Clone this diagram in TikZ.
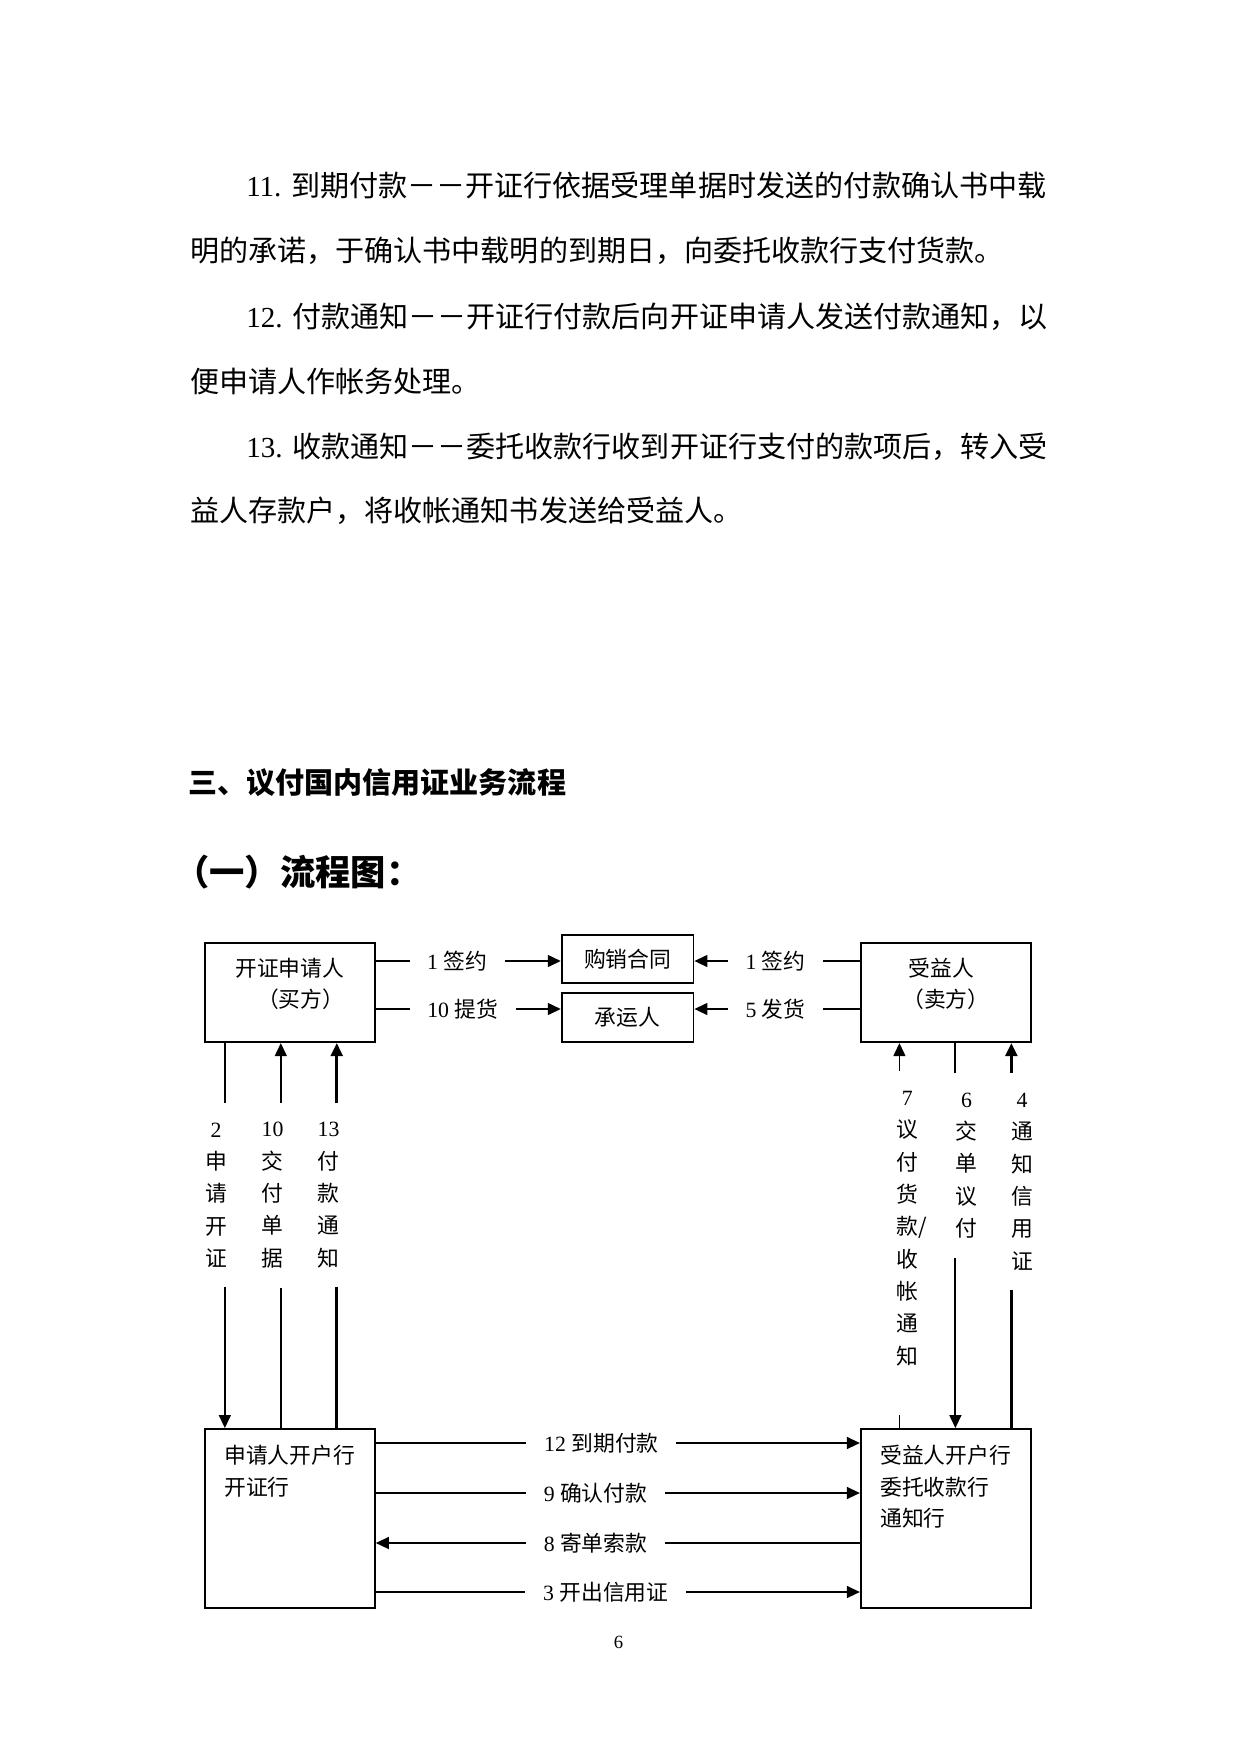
\documentclass[tikz,border=0pt]{standalone}
\usepackage{fontspec}
\setmainfont{Liberation Serif}
\newfontfamily\cjk{Noto Sans CJK SC}
\usetikzlibrary{positioning, arrows.meta}

\begin{document}
\begin{tikzpicture}[
      x=0.16922mm, y=-0.16933mm,
      box/.style={draw, line width=0.9pt, inner sep=0pt},
      party/.style={box, minimum width=28.8mm, minimum height=16.8mm, align=center,
        text depth=3.2mm, font=\fontsize{10.5pt}{15pt}\selectfont\cjk},
      goods/.style={box, minimum width=22.3mm, minimum height=8.1mm,
        font=\fontsize{10.5pt}{13pt}\selectfont\cjk},
      bank/.style={box, minimum width=28.8mm, minimum height=30.3mm},
      bank text/.style={anchor=north west, align=left, inner sep=0pt,
        font=\fontsize{10.5pt}{15pt}\selectfont\cjk},
      flow/.style={line width=0.9pt, -{Triangle[length=2.2mm, width=2mm]}},
      hlabel/.style={fill=white, inner xsep=3mm, inner ysep=0.5mm,
        font=\fontsize{10.5pt}{13pt}\selectfont},
      vlabel/.style={fill=white, inner xsep=1mm, inner ysep=3.3mm, align=center,
        font=\fontsize{10.5pt}{15.6pt}\selectfont\cjk},
      body/.style={anchor=base west, inner sep=0pt, font=\fontsize{14pt}{17pt}\selectfont},
      heading/.style={anchor=base west, inner sep=0pt},
    ]

    % --- page ---
    \fill[white] (0,0) rectangle (1241,1754);

    % --- text above the chart ---
    \foreach \lx/\ly/\ltext [count=\i] in {
        246/196/{11. {\cjk 到期付款－－开证行依据受理单据时发送的付款确认书中载}},
        190/261/{\cjk 明的承诺，于确认书中载明的到期日，向委托收款行支付货款。},
        246/327/{12. {\cjk 付款通知－－开证行付款后向开证申请人发送付款通知，以}},
        190/392/{\cjk 便申请人作帐务处理。},
        246/457/{13. {\cjk 收款通知－－委托收款行收到开证行支付的款项后，转入受}},
        190/521/{\cjk 益人存款户，将收帐通知书发送给受益人。}} {
      \node[body] (para\i) at (\lx,\ly) {\ltext};
    }
    \node[heading, font=\fontsize{14pt}{17pt}\selectfont\cjk\bfseries] (title)
      at (188,793) {三、议付国内信用证业务流程};
    \node[heading, font=\fontsize{17pt}{20pt}\selectfont\cjk\bfseries] (subtitle)
      at (174,885) {（一）流程图：};

    % --- parties, goods, banks ---
    \node[party] (buyer) at (290,992.5) {开证申请人\\\hspace*{1em}（买方）};
    \node[party] (seller) at (946.5,992.5) {受益人\hspace*{0.4em}\\（卖方）};
    \node[goods] (contract) at (628,959) {购销合同};
    \node[goods, minimum height=8.3mm] (carrier) at (628,1017.5) {承运人};
    \node[bank] (ibank) at (290,1518.5) {};
    \node[bank] (abank) at (946.5,1518.5) {};
    \node[bank text] (ibanktext) at ([shift={(20,17)}]ibank.north west) {申请人开户行\\开证行};
    \node[bank text] (abanktext) at ([shift={(20,17)}]abank.north west) {受益人开户行\\委托收款行\\通知行};

    % --- rows and columns of the connectors ---
    \coordinate (row1) at (0,961);
    \coordinate (row2) at (0,1009);
    \coordinate (row3) at (0,1443);
    \coordinate (row4) at (0,1493);
    \coordinate (row5) at (0,1543);
    \coordinate (row6) at (0,1592);
    \foreach \cx [count=\i] in {225, 281, 337, 900, 956, 1012} {
      \coordinate (col\i) at (\cx,0);
    }

    % ---- goods flows ----
    \draw[flow] (buyer.east |- row1) -- node[hlabel, pos=0.44] (sign1) {1 {\cjk 签约}} (contract.west |- row1);
    \draw[flow] (buyer.east |- row2) -- node[hlabel, pos=0.47] (pickup) {10 {\cjk 提货}} (carrier.west |- row2);
    \draw[flow] (seller.west |- row1) -- node[hlabel, pos=0.51] (sign2) {1 {\cjk 签约}} (contract.east |- row1);
    \draw[flow] (seller.west |- row2) -- node[hlabel, pos=0.51] (ship) {5 {\cjk 发货}} (carrier.east |- row2);

    % ---- buyer side ----
    \draw[flow] (buyer.south -| col1) -- node[vlabel, pos=0.395, xshift=-1.5mm] (apply)
      {{\rmfamily 2}\\申\\请\\开\\证} (ibank.north -| col1);
    \draw[flow] (ibank.north -| col2) -- node[vlabel, pos=0.605, xshift=-1.4mm] (docs)
      {{\rmfamily 10}\\交\\付\\单\\据} (buyer.south -| col2);
    \draw[flow, line width=1.3pt] (ibank.north -| col3) -- node[vlabel, pos=0.605, xshift=-1.4mm] (paynote)
      {{\rmfamily 13}\\付\\款\\通\\知} (buyer.south -| col3);

    % ---- seller side ----
    \draw[flow] (abank.north -| col4) -- node[vlabel, pos=0.48, xshift=1.35mm, text depth=5.3mm] (negpay)
      {{\rmfamily 7}\\议\\付\\货\\款\rlap{/}\\收\\帐\\通\\知} (seller.south -| col4);
    \draw[flow] (seller.south -| col5) -- node[vlabel, pos=0.318, xshift=1.9mm] (present)
      {{\rmfamily 6}\\交\\单\\议\\付} (abank.north -| col5);
    \draw[flow, line width=1.3pt] (abank.north -| col6) -- node[vlabel, pos=0.64, xshift=1.8mm] (advise)
      {{\rmfamily 4}\\通\\知\\信\\用\\证} (seller.south -| col6);

    % ---- between the banks ----
    \draw[flow] (ibank.east |- row3) -- node[hlabel, pos=0.466] (maturity) {12 {\cjk 到期付款}} (abank.west |- row3);
    \draw[flow] (ibank.east |- row4) -- node[hlabel, pos=0.454] (confirm) {9 {\cjk 确认付款}} (abank.west |- row4);
    \draw[flow] (abank.west |- row5) -- node[hlabel, pos=0.546] (claim) {8 {\cjk 寄单索款}} (ibank.east |- row5);
    \draw[flow] (ibank.east |- row6) -- node[hlabel, pos=0.475] (issue) {3 {\cjk 开出信用证}} (abank.west |- row6);

    % --- page number ---
    \node[font=\fontsize{9pt}{11pt}\selectfont] (pageno) at (619,1642) {6};

\end{tikzpicture}
\end{document}
